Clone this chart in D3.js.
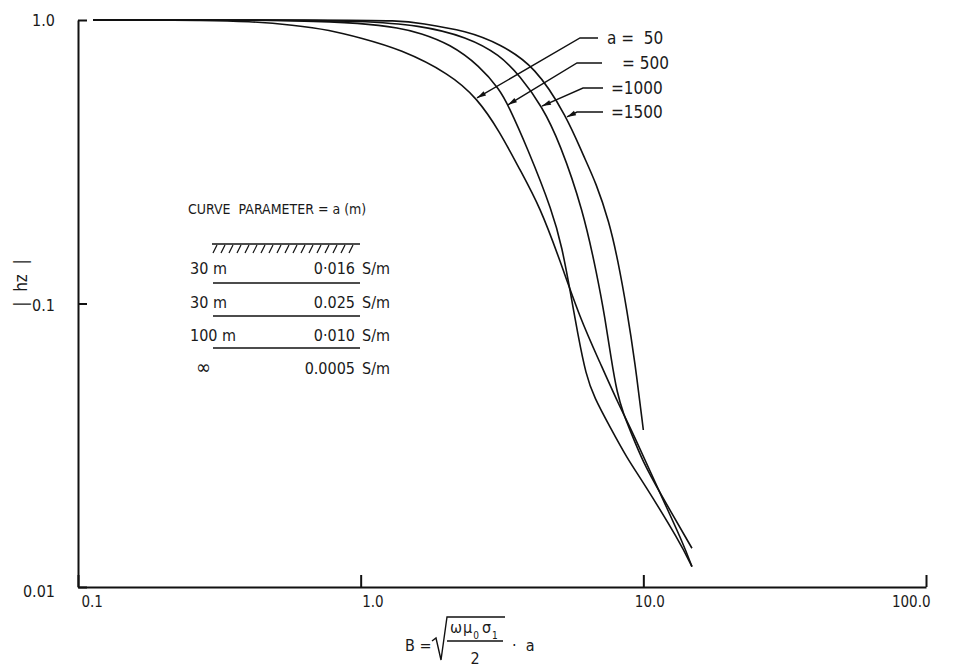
<!DOCTYPE html>
<meta charset="utf-8">
<style>
body { margin: 0; background: #fff; }
svg text {
  font-family: "DejaVu Sans Condensed", "Liberation Sans Narrow", "DejaVu Sans", sans-serif;
  font-size: 16px;
  fill: #1a1a1a;
}
.curve { fill: none; stroke: #111; stroke-width: 1.6px; }
.axis path, .axis line { stroke: #111; stroke-width: 2px; fill: none; }
.rule { stroke: #111; stroke-width: 1.6px; }
.leader { fill: none; stroke: #111; stroke-width: 1.4px; }
</style>
<svg width="954" height="670"></svg>

<script src="https://d3js.org/d3.v7.min.js"></script>
<script>
/* global d3 */

// tick values and their printed labels
var xTickValues = [0.1, 1, 10, 100];
var xTickLabels = ["0.1", "1.0", "10.0", "100.0"];
var yTickValues = [0.01, 0.1, 1];
var yTickLabels = ["0.01", "0.1", "1.0"];

// curve parameter a (m) and the label printed for each curve
var aValues = [50, 500, 1000, 1500];
var aLabels = ["a =  50", "= 500", "=1000", "=1500"];
// where each leader arrow touches its curve (value of B)
var arrowB = [2.58, 3.32, 4.38, 5.37];

// B and |hz|, one pair of arrays per curve
var b50 = [0.113, 0.18, 0.27, 0.406, 0.576, 0.779, 1.0, 1.38, 2.07, 2.58, 3.11, 3.66, 4.31, 5.07, 5.97, 7.03, 8.13, 9.19, 11.74, 13.81, 14.86];
var hz50 = [1.0, 1.0, 0.998, 0.99, 0.96, 0.922, 0.864, 0.79, 0.645, 0.531, 0.403, 0.296, 0.219, 0.142, 0.0888, 0.0618, 0.0446, 0.0349, 0.0203, 0.0143, 0.0118];

var b500 = [0.113, 0.3, 0.61, 1.0, 1.38, 1.62, 2.07, 2.64, 3.11, 3.32, 3.88, 4.79, 5.16, 5.50, 5.87, 6.27, 6.69, 7.62, 8.75, 9.97, 13.48, 14.86];
var hz500 = [1.0, 1.0, 0.996, 0.976, 0.937, 0.900, 0.823, 0.688, 0.566, 0.502, 0.356, 0.209, 0.157, 0.112, 0.0774, 0.0559, 0.0468, 0.0367, 0.0285, 0.0235, 0.0144, 0.0118];

var b1000 = [0.113, 0.5, 1.0, 1.62, 2.38, 3.11, 3.66, 4.38, 5.07, 6.12, 6.86, 7.32, 7.69, 8.07, 8.54, 8.97, 9.97, 11.45, 14.86];
var hz1000 = [1.0, 1.0, 0.992, 0.960, 0.871, 0.753, 0.634, 0.497, 0.368, 0.2135, 0.126, 0.0888, 0.0641, 0.0483, 0.0404, 0.0358, 0.0276, 0.0215, 0.0137];

var b1500 = [0.113, 0.8, 1.38, 1.62, 2.38, 3.11, 4.14, 5.37, 6.12, 6.81, 7.57, 8.13, 8.75, 9.34, 10.0];
var hz1500 = [1.0, 1.0, 0.995, 0.976, 0.915, 0.823, 0.688, 0.455, 0.334, 0.266, 0.194, 0.142, 0.0949, 0.0622, 0.0358];

// the layered earth model in the inset
var layerThickness = ["30 m", "30 m", "100 m", "\u221e"];
var layerConductivity = ["0\u00b7016", "0.025", "0\u00b7010", "0.0005"];

var svg = d3.select("svg");

var x = d3.scaleLog().domain([0.1, 100]).range([78, 926]),
    y = d3.scaleLog().domain([0.01, 1]).range([587, 20]);

var curves = [
  {a: aValues[0], b: b50, hz: hz50},
  {a: aValues[1], b: b500, hz: hz500},
  {a: aValues[2], b: b1000, hz: hz1000},
  {a: aValues[3], b: b1500, hz: hz1500}
];

// axes
// the printed x labels sit a little right of their ticks
var xLabelShift = [{anchor: "start", dx: 3}, {anchor: "start", dx: 1}, {anchor: "middle", dx: 6}, {anchor: "end", dx: 4}];
svg.append("g")
    .attr("class", "axis")
    .attr("transform", "translate(0," + y(0.01) + ")")
    .call(d3.axisBottom(x)
        .tickValues(xTickValues)
        .tickFormat(function(d, i) { return xTickLabels[i]; })
        .tickSizeInner(-12)
        .tickSizeOuter(0)
        .tickPadding(9))
    .call(function(g) {
      g.selectAll("text")
          .attr("fill", "#1a1a1a")
          .style("font-size", "15px")
          .attr("text-anchor", function(d, i) { return xLabelShift[i].anchor; })
          .attr("dx", function(d, i) { return xLabelShift[i].dx; });
    });

svg.append("g")
    .attr("class", "axis")
    .attr("transform", "translate(" + x(0.1) + ",0)")
    .call(d3.axisLeft(y)
        .tickValues(yTickValues)
        .tickFormat(function(d, i) { return yTickLabels[i]; })
        .tickSizeInner(-9)
        .tickSizeOuter(0)
        .tickPadding(23))
    .call(function(g) {
      g.selectAll("text")
          .attr("fill", "#1a1a1a")
          .style("font-size", "16px")
          .attr("y", function(d) { return d === 0.01 ? 4 : (d === 0.1 ? 2 : 0); });
    });

// y title |hz|
svg.append("text")
    .attr("transform", "translate(27,283) rotate(-90)")
    .attr("text-anchor", "middle")
    .style("font-size", "17px")
    .attr("xml:space", "preserve")
    .text("|  hz  |");

// curves
var line = d3.line()
    .x(function(d) { return x(d[0]); })
    .y(function(d) { return y(d[1]); })
    .curve(d3.curveBasis);

svg.append("g")
    .selectAll("path")
    .data(curves)
    .join("path")
    .attr("class", "curve")
    .attr("d", function(d) { return line(d3.zip(d.b, d.hz)); });

// point on a curve at B, interpolated in log space
function pointOn(c, b) {
  var i = d3.bisectLeft(c.b, b);
  if (i < 1) i = 1;
  var t = (Math.log(b) - Math.log(c.b[i - 1])) / (Math.log(c.b[i]) - Math.log(c.b[i - 1]));
  var lh = Math.log(c.hz[i - 1]) + t * (Math.log(c.hz[i]) - Math.log(c.hz[i - 1]));
  return [x(b), y(Math.exp(lh))];
}

// leaders from the labels to the curves
var leaderLayout = [
  {rowY: 38, kneeX: 580, endX: 598, textX: 607},
  {rowY: 63, kneeX: 577, endX: 602, textX: 622},
  {rowY: 88, kneeX: 583, endX: 603, textX: 611},
  {rowY: 112, kneeX: 577, endX: 603, textX: 611}
];

var leaders = svg.append("g");
curves.forEach(function(c, i) {
  var L = leaderLayout[i],
      tip = pointOn(c, arrowB[i]);
  leaders.append("path")
      .attr("class", "leader")
      .attr("d", d3.line()([tip, [L.kneeX, L.rowY], [L.endX, L.rowY]]));
  var dx = tip[0] - L.kneeX, dy = tip[1] - L.rowY,
      len = Math.sqrt(dx * dx + dy * dy),
      ux = dx / len, uy = dy / len,
      bx = tip[0] - 9 * ux, by = tip[1] - 9 * uy;
  leaders.append("path")
      .attr("fill", "#111")
      .attr("d", d3.line()([tip, [bx - 2.5 * uy, by + 2.5 * ux], [bx + 2.5 * uy, by - 2.5 * ux]]) + "Z");
  leaders.append("text")
      .attr("x", L.textX)
      .attr("y", L.rowY + 6)
      .style("font-size", "17px")
      .style("white-space", "pre")
      .attr("xml:space", "preserve")
      .text(aLabels[i]);
});

// inset: curve parameter and layered model
var inset = svg.append("g");
inset.append("text")
    .attr("x", 188)
    .attr("y", 214)
    .style("font-size", "14px")
    .attr("xml:space", "preserve")
    .style("white-space", "pre")
    .text("CURVE  PARAMETER = a (m)");

inset.append("line").attr("class", "rule")
    .attr("x1", 212).attr("x2", 360).attr("y1", 244).attr("y2", 244);
inset.selectAll("line.hatch")
    .data(d3.range(217, 361, 8))
    .join("line")
    .attr("class", "rule hatch")
    .style("stroke-width", "1.2px")
    .attr("x1", function(d) { return d; }).attr("y1", 245)
    .attr("x2", function(d) { return d - 4; }).attr("y2", 253);

var rowBase = [274, 308, 341, 374],
    ruleY = [283, 316, 348];

inset.selectAll("line.sep")
    .data(ruleY)
    .join("line")
    .attr("class", "rule sep")
    .attr("x1", 213).attr("x2", 360)
    .attr("y1", function(d) { return d; }).attr("y2", function(d) { return d; });

inset.selectAll("text.thick")
    .data(layerThickness)
    .join("text")
    .attr("class", "thick")
    .attr("x", function(d, i) { return i === 3 ? 196 : 190; })
    .attr("y", function(d, i) { return rowBase[i]; })
    .style("font-size", function(d, i) { return i === 3 ? "20px" : null; })
    .text(function(d) { return d; });

inset.selectAll("text.cond")
    .data(layerConductivity)
    .join("text")
    .attr("class", "cond")
    .attr("x", 355)
    .attr("text-anchor", "end")
    .attr("y", function(d, i) { return rowBase[i]; })
    .text(function(d) { return d; });

inset.selectAll("text.unit")
    .data(layerConductivity)
    .join("text")
    .attr("class", "unit")
    .attr("x", 362)
    .attr("y", function(d, i) { return rowBase[i]; })
    .text("S/m");

// x title: B = sqrt(omega mu0 sigma1 / 2) . a
var f = svg.append("g");
f.append("text").attr("x", 405).attr("y", 651).text("B =");
f.append("path")
    .attr("fill", "none").attr("stroke", "#111").attr("stroke-width", 1.4)
    .attr("d", "M432,641L436,638L441,660L447,617L505,617");
var num = f.append("text").attr("x", 450).attr("y", 633).attr("letter-spacing", 1);
num.append("tspan").text("\u03c9\u03bc");
num.append("tspan").attr("baseline-shift", "sub").style("font-size", "10px").text("0");
num.append("tspan").attr("dx", 2).text("\u03c3");
num.append("tspan").attr("baseline-shift", "sub").style("font-size", "10px").text("1");
f.append("line").attr("stroke", "#111").attr("stroke-width", 1.4)
    .attr("x1", 447).attr("x2", 503).attr("y1", 641).attr("y2", 641);
f.append("text").attr("x", 475).attr("y", 664).attr("text-anchor", "middle").text("2");
f.append("text").attr("x", 512).attr("y", 651).attr("xml:space", "preserve").style("white-space", "pre").text("\u00b7  a");
</script>
